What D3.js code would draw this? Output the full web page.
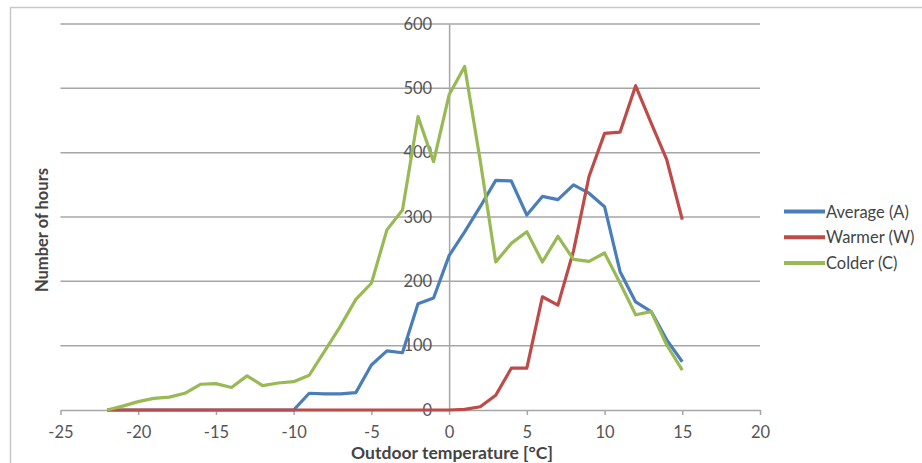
<!DOCTYPE html>
<html><head><meta charset="utf-8">
<script src="https://cdn.jsdelivr.net/npm/d3@7/dist/d3.min.js"></script>
<style>body{margin:0;background:#fff}svg{display:block}</style>
</head><body>
<script>
const temps = d3.range(-22, 16);
const average = [0,0,0,0,0,0,0,0,0,0,0,0,0,26,25,25,27,70,92,89,165,174,240,277,316,357,356,303,332,327,350,337,316,215,168,153,109,75];
const warmer  = [0,0,0,0,0,0,0,0,0,0,0,0,0,0,0,0,0,0,0,0,0,0,0,1,5,23,65,65,176,163,247,363,430,432,504,446,389,296];
const colder  = [0,6,13,18,20,26,40,41,35,53,38,42,44,54,92,130,172,197,280,311,456,386,490,534,388,230,259,277,230,270,234,231,244,197,148,153,101,62];
const seriesNames = ["Average (A)", "Warmer (W)", "Colder (C)"];
const seriesColors = ["#4a7ebb", "#be4b48", "#98b954"];
const xTicks = [-25,-20,-15,-10,-5,0,5,10,15,20];
const yTicks = [0,100,200,300,400,500,600];

const W = 922, H = 463;
const svg = d3.select("body").append("svg").attr("width", W).attr("height", H);
const font = "Lato, 'Open Sans', sans-serif";

svg.append("rect").attr("x",10.5).attr("y",7.5).attr("width",940).attr("height",480)
  .attr("fill","none").attr("stroke","#c8c8c8").attr("stroke-width",1.5);

const x = d3.scaleLinear().domain([-25,20]).range([60.5,760]);
const y = d3.scaleLinear().domain([0,600]).range([410,24]);

// gridlines
svg.append("g").selectAll("line").data(yTicks.filter(d=>d>0)).join("line")
  .attr("x1", x(-25)).attr("x2", x(20)).attr("y1", d=>y(d)).attr("y2", d=>y(d))
  .attr("stroke","#a6a6a6").attr("stroke-width",1.5);

// y axis at x=0
const yAxis = svg.append("g").attr("transform",`translate(${x(0)},0)`)
  .call(d3.axisLeft(y).tickValues(yTicks).tickSize(0).tickPadding(17).tickFormat(d=>String(d)));
yAxis.select(".domain").attr("stroke","#a6a6a6").attr("stroke-width",1.5);
yAxis.selectAll("text").attr("font-family",font).attr("font-size",16.5).attr("fill","#555");

// x axis at y=0
const xAxis = svg.append("g").attr("transform",`translate(0,${y(0)})`)
  .call(d3.axisBottom(x).tickValues(xTicks).tickSize(5).tickPadding(11).tickSizeOuter(0).tickFormat(d=>String(d)));
xAxis.select(".domain").attr("stroke","#a6a6a6").attr("stroke-width",1.5);
xAxis.selectAll(".tick line").attr("stroke","#a6a6a6").attr("stroke-width",1.5);
xAxis.selectAll("text").attr("font-family",font).attr("font-size",16.5).attr("fill","#555");

// lines
const data = [average, warmer, colder];
const line = d3.line().x((d,i)=>x(temps[i])).y(d=>y(d));
svg.append("g").selectAll("path").data(data).join("path")
  .attr("d", line).attr("fill","none")
  .attr("stroke",(d,i)=>seriesColors[i]).attr("stroke-width",3.2)
  .attr("stroke-linejoin","round");

// axis titles
svg.append("text").attr("x",452).attr("y",459).attr("text-anchor","middle")
  .attr("font-family",font).attr("font-weight","bold").attr("font-size",17.5).attr("fill","#444")
  .text("Outdoor temperature [°C]");
svg.append("text").attr("transform","translate(48,230) rotate(-90)").attr("text-anchor","middle")
  .attr("font-family",font).attr("font-weight","bold").attr("font-size",16.5).attr("fill","#444")
  .text("Number of hours");

// legend
const leg = svg.append("g").selectAll("g").data(seriesNames).join("g")
  .attr("transform",(d,i)=>`translate(784,${211.5 + i*25.7})`);
leg.append("line").attr("x1",0).attr("x2",41).attr("y1",0).attr("y2",0)
  .attr("stroke",(d,i)=>seriesColors[i]).attr("stroke-width",4);
leg.append("text").attr("x",42).attr("y",6).attr("font-family",font).attr("font-size",16.5)
  .attr("fill","#444").text(d=>d);
</script>
</body></html>
